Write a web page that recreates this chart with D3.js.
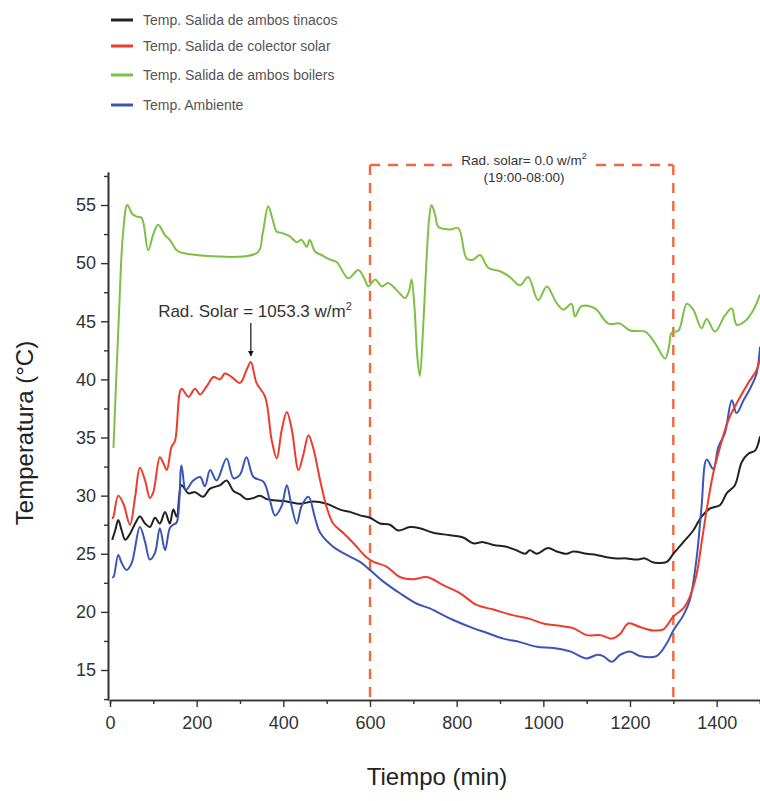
<!DOCTYPE html>
<html>
<head>
<meta charset="utf-8">
<script src="https://cdn.jsdelivr.net/npm/d3@7"></script>
<style>
  body { margin: 0; background: #fff; }
  svg { display: block; font-family: "Liberation Sans", Arial, sans-serif; }
</style>
</head>
<body>
<div id="chart"></div>
<script>
// series: [time (min), temperature (°C)]
const tinacos = [
  [5,26.2],[12,27.0],[19,27.9],[27,27.0],[35,26.2],[46,26.7],[58,27.6],[69,28.2],[81,27.6],[92,27.3],
  [104,28.1],[115,27.6],[127,28.6],[138,27.6],[146,28.8],[154,28.2],[165,30.9],[181,30.2],[196,30.3],
  [215,29.9],[231,30.6],[254,30.9],[269,31.3],[285,30.4],[300,30.1],[315,29.7],[331,29.8],[346,30.0],
  [362,29.7],[377,29.6],[408,29.5],[438,29.3],[469,29.5],[500,29.3],[531,28.8],[554,28.6],[577,28.3],
  [600,28.1],[623,27.6],[646,27.5],[665,27.0],[692,27.3],[715,27.2],[746,26.8],[785,26.6],[815,26.4],
  [838,25.9],[861,26.0],[885,25.75],[915,25.6],[938,25.3],[958,25.0],[969,25.3],[985,25.0],[1011,25.5],
  [1031,25.2],[1054,25.0],[1069,25.2],[1100,25.0],[1123,24.9],[1146,24.7],[1169,24.6],[1192,24.6],
  [1215,24.5],[1235,24.6],[1250,24.3],[1265,24.2],[1285,24.3],[1300,25.0],[1323,26.0],[1346,27.0],
  [1365,28.2],[1385,28.9],[1408,29.2],[1423,30.2],[1442,30.9],[1458,32.9],[1473,33.6],[1489,33.9],
  [1500,35.1]
];
const colector = [
  [5,28.0],[8,28.2],[19,30.0],[31,29.3],[46,27.5],[58,29.9],[69,32.4],[81,31.3],[92,29.8],[100,30.3],
  [115,33.3],[123,32.8],[131,32.2],[142,34.2],[150,34.7],[165,39.2],[181,38.5],[196,39.2],[208,38.7],
  [223,39.4],[239,40.2],[254,40.0],[265,40.5],[281,40.2],[300,39.7],[315,40.8],[325,41.5],[338,39.7],
  [358,38.5],[373,34.8],[385,33.2],[396,35.6],[408,37.2],[419,35.8],[435,32.2],[446,33.5],[458,35.2],
  [469,34.1],[485,31.3],[500,29.0],[515,27.6],[538,26.8],[562,25.9],[592,24.7],[608,24.3],[638,23.9],
  [669,23.0],[700,22.8],[731,23.0],[769,22.3],[808,21.6],[846,20.6],[885,20.2],[931,19.7],[969,19.4],
  [1000,19.0],[1038,18.8],[1069,18.6],[1100,18.0],[1131,18.0],[1158,17.7],[1177,18.1],[1196,19.0],
  [1223,18.7],[1254,18.4],[1277,18.5],[1300,19.6],[1323,20.3],[1338,21.3],[1354,23.3],[1365,25.9],
  [1377,28.8],[1392,31.9],[1408,34.2],[1427,36.5],[1450,38.2],[1473,39.7],[1492,40.8],[1500,41.8]
];
const boilers = [
  [8,34.1],[20,45.0],[30,52.5],[40,55.0],[52,54.2],[62,54.0],[73,53.9],[88,51.1],[100,52.5],[111,53.3],
  [127,52.4],[138,52.0],[154,51.1],[165,50.9],[340,50.9],[352,52.5],[365,54.9],[375,53.8],[385,52.7],
  [396,52.6],[415,52.3],[431,51.8],[442,52.0],[454,51.4],[461,52.0],[473,51.0],[488,50.7],[508,50.3],
  [523,50.1],[550,48.7],[573,49.4],[588,48.6],[596,48.0],[612,48.6],[627,48.0],[642,48.3],[661,47.7],
  [681,47.0],[690,47.6],[696,48.6],[703,46.0],[709,42.0],[715,40.3],[722,44.0],[730,50.0],[737,54.0],
  [742,55.0],[750,54.2],[758,53.1],[785,52.9],[804,53.0],[823,50.4],[838,50.3],[854,50.7],[873,49.6],
  [900,49.3],[923,48.8],[946,48.1],[965,48.8],[988,46.8],[1008,48.0],[1030,46.6],[1046,46.0],
  [1065,46.5],[1073,45.4],[1088,46.3],[1119,46.1],[1150,44.8],[1177,44.8],[1200,44.2],[1235,44.1],
  [1258,43.1],[1281,41.8],[1290,42.8],[1296,44.0],[1312,44.2],[1331,46.5],[1346,46.0],[1365,44.4],
  [1377,45.2],[1396,44.1],[1419,45.5],[1435,46.1],[1446,44.7],[1465,45.0],[1485,46.0],[1500,47.3]
];
const ambiente = [
  [5,23.0],[8,23.0],[19,24.9],[27,24.2],[38,23.6],[50,24.2],[69,27.3],[81,26.0],[92,24.5],[104,25.1],
  [115,27.2],[127,25.3],[138,27.2],[146,27.5],[154,27.7],[165,32.6],[175,30.5],[192,31.3],[208,31.6],
  [219,30.8],[231,32.2],[246,31.3],[269,33.2],[285,31.5],[300,31.8],[315,33.3],[331,31.6],[354,31.2],
  [369,29.6],[381,28.3],[396,29.1],[408,30.9],[419,29.1],[431,27.6],[442,29.1],[458,29.9],[473,28.1],
  [485,26.8],[515,25.6],[546,24.9],[577,24.3],[600,23.6],[631,22.6],[669,21.6],[708,20.7],[738,20.3],
  [754,20.0],[792,19.3],[838,18.6],[869,18.2],[908,17.7],[946,17.4],[985,17.0],[1023,16.9],[1062,16.6],
  [1100,16.0],[1123,16.3],[1138,16.2],[1158,15.7],[1177,16.3],[1200,16.6],[1223,16.2],[1261,16.2],
  [1285,17.3],[1300,18.4],[1323,19.7],[1338,21.0],[1354,24.7],[1365,29.0],[1377,33.1],[1392,32.3],
  [1404,34.2],[1419,35.4],[1435,38.2],[1446,37.1],[1462,38.2],[1477,39.2],[1492,40.5],[1500,42.8]
];

const seriesNames = [
  'Temp. Salida de ambos tinacos',
  'Temp. Salida de colector solar',
  'Temp. Salida de ambos boilers',
  'Temp. Ambiente'
];
const seriesColors = ['#222222', '#ee3b2c', '#7cc143', '#3b55b8'];
const seriesData = [tinacos, colector, boilers, ambiente];
// draw order: green, black, blue, red
const drawOrder = [2, 0, 3, 1];

const xTicks = [0, 200, 400, 600, 800, 1000, 1200, 1400];
const xMinorTicks = [100, 300, 500, 700, 900, 1100, 1300, 1500];
const yTicks = [15, 20, 25, 30, 35, 40, 45, 50, 55];
const yMinorTicks = [12.5, 17.5, 22.5, 27.5, 32.5, 37.5, 42.5, 47.5, 52.5, 57.5];

const nightStart = 600;
const nightEnd = 1300;
const peakTime = 325;
const peakTemp = 41.5;

const W = 760, H = 801;
const svg = d3.select('#chart').append('svg')
  .attr('width', W).attr('height', H);

const x = d3.scaleLinear().domain([0, 1500]).range([110, 760]);
const y = d3.scaleLinear().domain([12.42, 57.84]).range([700, 172]);

// axes
function styleAxis(g) {
  g.select('.domain').attr('stroke', '#333').attr('stroke-width', 1.6);
  g.selectAll('.tick line').attr('stroke', '#333').attr('stroke-width', 1.4);
  g.selectAll('.tick text').attr('fill', '#333')
    .style('font-size', '18px').style('font-family', '"Liberation Sans", Arial, sans-serif');
}

svg.append('g').attr('transform', 'translate(0,700)')
  .call(d3.axisBottom(x).tickValues(xMinorTicks).tickSize(4).tickFormat(''))
  .call(styleAxis);
svg.append('g').attr('transform', 'translate(0,700)')
  .call(d3.axisBottom(x).tickValues(xTicks).tickSize(7).tickPadding(9).tickSizeOuter(0)
    .tickFormat(d3.format('d')))
  .call(styleAxis);

svg.append('g').attr('transform', 'translate(108,0)')
  .call(d3.axisLeft(y).tickValues(yMinorTicks).tickSize(4).tickFormat('').tickSizeOuter(0))
  .call(styleAxis);
svg.append('g').attr('transform', 'translate(108,0)')
  .call(d3.axisLeft(y).tickValues(yTicks).tickSize(7).tickPadding(5).tickSizeOuter(0))
  .call(styleAxis);

// night box (dashed)
const boxTop = 165;
const dash = { stroke: '#f2673f', 'stroke-width': 2.4, 'stroke-dasharray': '10,8', fill: 'none' };
function dashed(sel) { Object.entries(dash).forEach(([k, v]) => sel.attr(k, v)); return sel; }
dashed(svg.append('line').attr('x1', x(nightStart)).attr('x2', x(nightStart))
  .attr('y1', boxTop).attr('y2', 700));
dashed(svg.append('line').attr('x1', x(nightEnd)).attr('x2', x(nightEnd))
  .attr('y1', boxTop).attr('y2', 700));
dashed(svg.append('line').attr('x1', x(nightStart)).attr('x2', 452)
  .attr('y1', boxTop).attr('y2', boxTop));
dashed(svg.append('line').attr('x1', 596).attr('x2', x(nightEnd))
  .attr('y1', boxTop).attr('y2', boxTop));

const boxLabel = svg.append('text').attr('x', 524).attr('y', 165)
  .attr('text-anchor', 'middle').attr('fill', '#333').style('font-size', '13.5px');
boxLabel.append('tspan').text('Rad. solar= 0.0 w/m');
boxLabel.append('tspan').attr('dy', -6).style('font-size', '9px').text('2');
svg.append('text').attr('x', 524).attr('y', 182)
  .attr('text-anchor', 'middle').attr('fill', '#333').style('font-size', '13.5px')
  .text('(19:00-08:00)');

// lines
const line = d3.line()
  .x((d) => x(d[0]))
  .y((d) => y(d[1]))
  .curve(d3.curveCatmullRom.alpha(0.5));

drawOrder.forEach((i) => {
  svg.append('path').datum(seriesData[i])
    .attr('d', line)
    .attr('fill', 'none')
    .attr('stroke', seriesColors[i])
    .attr('stroke-width', 2)
    .attr('stroke-linejoin', 'round');
});

// peak annotation
const peakLabel = svg.append('text').attr('x', 255).attr('y', 317)
  .attr('text-anchor', 'middle').attr('fill', '#333').style('font-size', '17px');
peakLabel.append('tspan').text('Rad. Solar = 1053.3  w/m');
peakLabel.append('tspan').attr('dy', -7).style('font-size', '11px').text('2');

svg.append('defs').append('marker')
  .attr('id', 'arrow').attr('viewBox', '0 0 10 10')
  .attr('refX', 9).attr('refY', 5)
  .attr('markerWidth', 6).attr('markerHeight', 7)
  .attr('markerUnits', 'userSpaceOnUse')
  .attr('orient', 'auto')
  .append('path').attr('d', 'M0,0L10,5L0,10Z').attr('fill', '#111');
svg.append('line')
  .attr('x1', x(peakTime)).attr('x2', x(peakTime))
  .attr('y1', 323).attr('y2', y(peakTemp) - 6)
  .attr('stroke', '#111').attr('stroke-width', 1.2)
  .attr('marker-end', 'url(#arrow)');

// axis titles
svg.append('text').attr('transform', 'translate(33,433) rotate(-90)')
  .attr('text-anchor', 'middle').attr('fill', '#222').style('font-size', '24px')
  .text('Temperatura (°C)');
svg.append('text').attr('x', 437).attr('y', 785)
  .attr('text-anchor', 'middle').attr('fill', '#222').style('font-size', '24px')
  .text('Tiempo (min)');

// legend
const legendY = [20, 46, 75, 105];
const legend = svg.append('g');
seriesNames.forEach((name, i) => {
  legend.append('line')
    .attr('x1', 111).attr('x2', 133)
    .attr('y1', legendY[i]).attr('y2', legendY[i])
    .attr('stroke', seriesColors[i]).attr('stroke-width', 3);
  legend.append('text')
    .attr('x', 143).attr('y', legendY[i] + 5)
    .attr('fill', '#555').style('font-size', '14px')
    .text(name);
});
</script>
</body>
</html>
